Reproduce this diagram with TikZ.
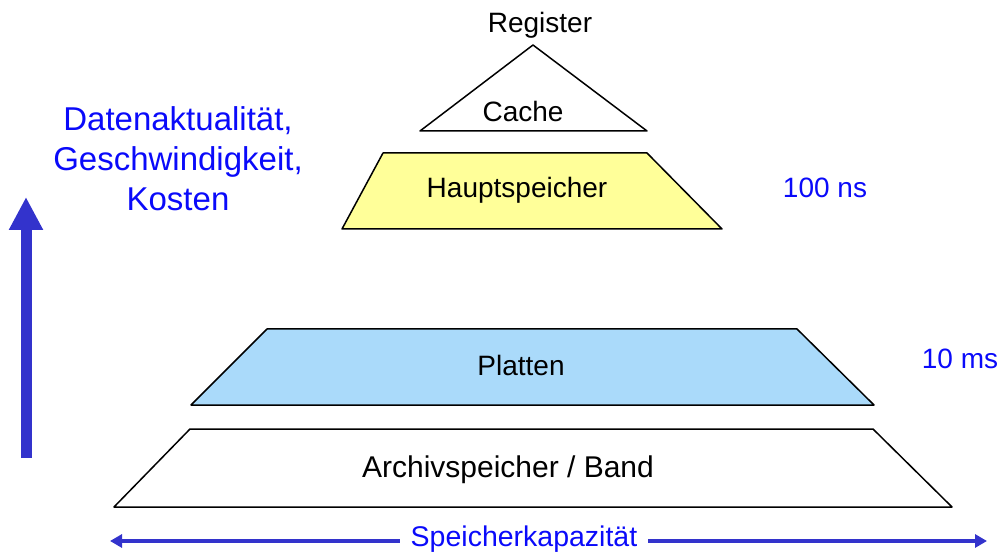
\documentclass[tikz,border=0pt]{standalone}
\usepackage{fontspec}
\setmainfont{Liberation Sans}
\usetikzlibrary{arrows.meta}
\definecolor{pfeilblau}{RGB}{51,51,204}
\definecolor{textblau}{RGB}{10,10,250}
\definecolor{gelb}{RGB}{255,255,153}
\definecolor{hellblau}{RGB}{170,218,250}

\begin{document}
\begin{tikzpicture}[line cap=round,line join=round,>={Triangle[length=12pt,width=13pt]},x=1pt,y=-1pt,
  txt/.style={inner sep=0pt,font=\fontsize{28}{34}\selectfont},
  blautxt/.style={txt,text=textblau},
  stufe/.style={draw=black,line width=1.5pt}]
\useasboundingbox (0,0) rectangle (999,553);
% Pyramide
\draw[stufe] (420,131) -- (533,45) -- (647,131) -- cycle;
\draw[stufe,fill=gelb] (383,153) -- (647,153) -- (722,229) -- (342,229) -- cycle;
\draw[stufe,fill=hellblau] (267,329) -- (797,329) -- (874,405) -- (191,405) -- cycle;
\draw[stufe] (190,429) -- (873,429) -- (952,507) -- (114,507) -- cycle;
\node[txt,anchor=base] (reg) at (540,33) {Register};
\node[txt,anchor=base] (cache) at (523,121.5) {Cache};
\node[txt,anchor=base] (haupt) at (517,198) {Hauptspeicher};
\node[txt,anchor=base] (platten) at (521,375.5) {Platten};
\node[txt,anchor=base,font=\fontsize{30}{34}\selectfont] (archiv) at (508,477) {Archivspeicher / Band};
% Zugriffszeiten
\node[blautxt,anchor=base] (zeitH) at (825,198) {100 ns};
\node[blautxt,anchor=base] (zeitP) at (960,368) {10 ms};
% Achsen
\node[blautxt,align=center,font=\fontsize{33}{40}\selectfont] (eigensch) at (178,158.5) {Datenaktualität,\\Geschwindigkeit,\\Kosten};
\coordinate (hochU) at (26,458);
\coordinate (hochO) at (26,197);
\draw[pfeilblau,line width=11pt,line cap=butt,-{Triangle[length=33pt,width=32pt]}] (hochU) -- (hochO);
\node[blautxt,anchor=base,inner xsep=11pt,font=\fontsize{28.5}{34}\selectfont] (kap) at (524,546.5) {Speicherkapazität};
\coordinate (kapL) at (110,541);
\coordinate (kapR) at (987,541);
\draw[->,pfeilblau,line width=3.5pt,line cap=butt] (kap.west |- kapL) -- (kapL);
\draw[->,pfeilblau,line width=3.5pt,line cap=butt] (kap.east |- kapR) -- (kapR);
\end{tikzpicture}
\end{document}
